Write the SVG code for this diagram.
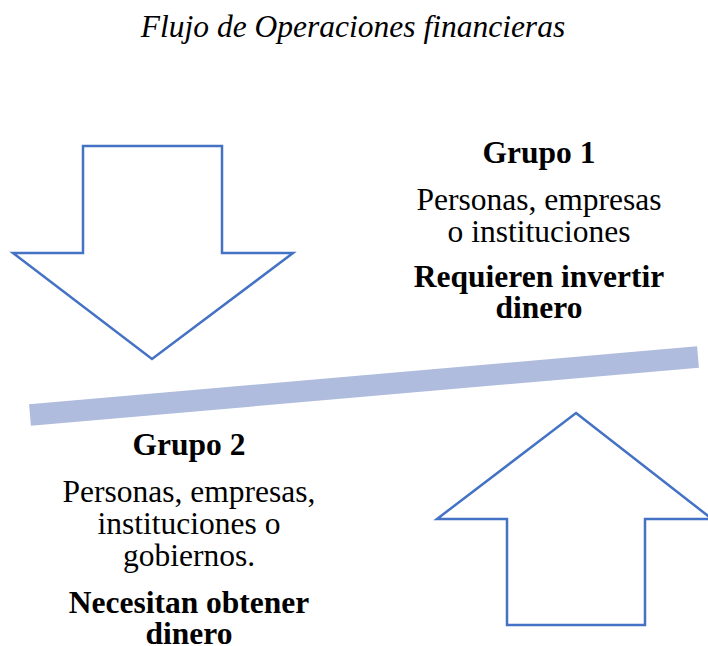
<svg xmlns="http://www.w3.org/2000/svg" width="708" height="646" viewBox="0 0 708 646">
<style>
.t{font-family:"Liberation Serif","Times New Roman",serif;font-size:31.5px;fill:#000;text-anchor:middle}
.b{font-weight:bold}
.i{font-style:italic}
.arrow{fill:#fff;stroke:#4472C4;stroke-width:2.5;stroke-linejoin:miter}
</style>
<rect width="708" height="646" fill="#fff"/>
<text class="t i" x="353" y="37">Flujo de Operaciones financieras</text>
<g id="connectors">
<g id="arrow-down"><polygon class="arrow" points="83,146 222,146 222,253 293,253 152,359 13,253 83,253"/></g>
<g id="arrow-up"><polygon class="arrow" points="576,413 712,519 645,519 645,625 507,625 507,519 437,519"/></g>
<line id="bar" x1="30" y1="415" x2="698" y2="357" stroke="#AFBCDD" stroke-width="21.5"/>
</g>
<g id="grupo1">
<text class="t b" x="539" y="163">Grupo 1</text>
<text class="t" x="539" y="210">Personas, empresas</text>
<text class="t" x="539" y="242">o instituciones</text>
<text class="t b" x="539" y="287">Requieren invertir</text>
<text class="t b" x="539" y="318">dinero</text>
</g>
<g id="grupo2">
<text class="t b" x="189" y="455">Grupo 2</text>
<text class="t" x="189" y="502">Personas, empresas,</text>
<text class="t" x="189" y="534">instituciones o</text>
<text class="t" x="189" y="566">gobiernos.</text>
<text class="t b" x="189" y="613">Necesitan obtener</text>
<text class="t b" x="189" y="644">dinero</text>
</g>
</svg>
